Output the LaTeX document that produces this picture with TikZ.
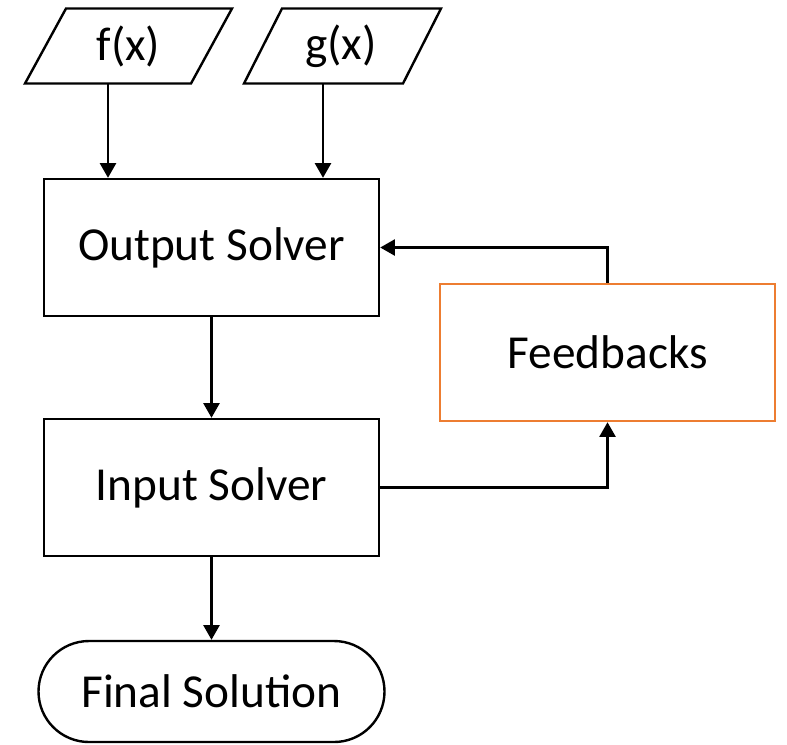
\documentclass[tikz,border=0pt]{standalone}
\usepackage{fontspec}
\setmainfont{Carlito}
\usetikzlibrary{arrows.meta,shapes.misc}
\definecolor{fborange}{HTML}{ED7D31}
\begin{document}
\begin{tikzpicture}[x=0.75pt,y=-0.75pt,
  lbl/.style={font=\fontsize{35.5}{42}\selectfont,inner sep=0pt},
  box/.style={lbl,draw,line width=1.8pt,minimum width=251.25pt,minimum height=102.75pt},
  term/.style={lbl,draw,line width=1.8pt,rounded rectangle,minimum width=259.5pt,minimum height=75.75pt},
  para/.style={line width=1.8pt,line join=miter},
  arr/.style={line width=1.8pt,-{Triangle[length=11pt,width=12pt]}}]
\useasboundingbox (0,0) rectangle (787,744);
% input parallelograms
\draw[para] (66,8.5) -- (232,8.5) -- (191,83.5) -- (25,83.5) -- cycle;
\draw[para] (282,8.5) -- (441,8.5) -- (403,83.5) -- (244,83.5) -- cycle;
\node[lbl] (f) at (128.5,46) {f(x)};
\node[lbl] (g) at (341,46) {g(x)};
\coordinate (fa) at (108,83.5);
\coordinate (ga) at (323,83.5);
% boxes
\node[box] (out) at (211.5,247.5) {Output Solver};
\node[box] (in) at (211.5,487.5) {Input Solver};
\node[box,draw=fborange] (fb) at (607.5,352.5) {Feedbacks};
\node[term] (fin) at (211.5,691.5) {Final Solution};
% connectors
\draw[arr] (fa) -- (fa |- out.north);
\draw[arr] (ga) -- (ga |- out.north);
\draw[arr] (out.south) -- (in.north);
\draw[arr] (in.south) -- (fin.north);
\draw[arr] (in.east) -| (fb.south);
\draw[arr] (fb.north) |- (out.east);
\end{tikzpicture}
\end{document}
